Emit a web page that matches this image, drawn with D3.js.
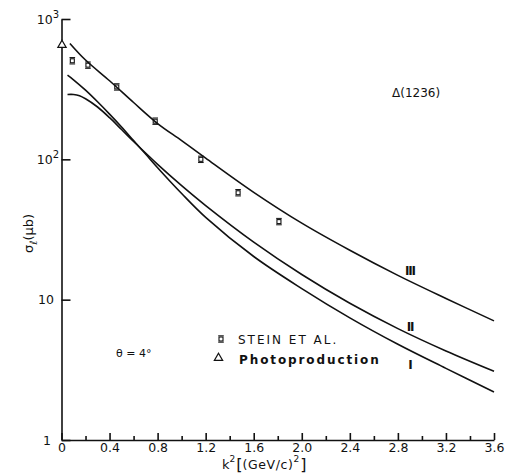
<!DOCTYPE html>
<html>
<head>
<meta charset="utf-8">
<script src="https://cdn.jsdelivr.net/npm/d3@7"></script>
<style>
  body { margin: 0; background: #fff; }
  svg { display: block; }
  .axis path, .axis line { stroke: #111; stroke-width: 1.6; }
  text { fill: #111; font-family: "DejaVu Sans", sans-serif; }
</style>
</head>
<body>
<div class="chart"></div>
<script>
// k^2 in (GeV/c)^2, cross section in microbarn
const curveI_k2 = [0.05, 0.1, 0.2, 0.3, 0.4, 0.5, 0.6, 0.7, 0.8, 1.0, 1.2, 1.6, 2.0, 2.4, 2.8, 3.2, 3.6]
const curveI_sig = [398, 369, 311, 257, 210, 170, 136, 109, 87.2, 57.1, 38.6, 20.3, 12.0, 7.42, 4.81, 3.24, 2.2]

const curveII_k2 = [0.05, 0.1, 0.15, 0.2, 0.3, 0.4, 0.5, 0.6, 0.7, 0.8, 1.0, 1.2, 1.6, 2.0, 2.4, 2.8, 3.2, 3.6]
const curveII_sig = [290, 290, 284, 270, 236, 198, 163, 134, 111, 92, 64.9, 46.8, 25.7, 15.1, 9.42, 6.22, 4.31, 3.09]

const curveIII_k2 = [0.07, 0.2, 0.4, 0.6, 0.8, 1.0, 1.2, 1.6, 2.0, 2.4, 2.8, 3.2, 3.6]
const curveIII_sig = [670, 510, 363, 254, 180, 136, 102, 58.2, 35.1, 22.5, 14.9, 10.2, 7.06]

const stein_k2 = [0.09, 0.22, 0.46, 0.78, 1.16, 1.47, 1.81]
const stein_sig = [504, 469, 328, 187, 100, 57.8, 36]

const photo_k2 = [0]
const photo_sig = [652]

const xTicks = [0, 0.2, 0.4, 0.6, 0.8, 1.0, 1.2, 1.4, 1.6, 1.8, 2.0, 2.2, 2.4, 2.6, 2.8, 3.0, 3.2, 3.4, 3.6]
const xLabels = ["0", "0.4", "0.8", "1.2", "1.6", "2.0", "2.4", "2.8", "3.2", "3.6"]
const yTicks = [1, 10, 100, 1000]
const curveNames = ["I", "II", "III"]

const width = 508, height = 474

const svg = d3.select(".chart").append("svg")
  .attr("width", width)
  .attr("height", height)

const x = d3.scaleLinear().domain([0, 3.6]).range([61.5, 494])
const y = d3.scaleLog().domain([1, 1000]).range([440, 19])

const fmtX = d => d === 0 ? "0" : d3.format(".1f")(d)

// x axis, ticks pointing up
const xAxis = d3.axisBottom(x)
  .tickValues(xTicks)
  .tickSizeOuter(0)
  .tickSizeInner(-4)
  .tickPadding(3)
  .tickFormat(d => xLabels.includes(fmtX(d)) ? fmtX(d) : "")

const gx = svg.append("g")
  .attr("class", "axis x-axis")
  .attr("transform", `translate(0, ${y(1)})`)
  .call(xAxis)
gx.selectAll(".tick line")
  .attr("y2", d => xLabels.includes(fmtX(d)) ? -7 : -4)
gx.selectAll(".tick text")
  .attr("font-size", 12.5)
  .attr("font-family", "DejaVu Sans")
  .attr("fill", "#111")

// y axis, ticks pointing right
const yAxis = d3.axisLeft(y)
  .tickValues(yTicks)
  .tickSizeOuter(0)
  .tickSizeInner(-9)
  .tickFormat("")

svg.append("g")
  .attr("class", "axis y-axis")
  .attr("transform", `translate(${x(0)}, 0)`)
  .call(yAxis)

yTicks.forEach(v => {
  const exp = Math.round(Math.log10(v))
  const t = svg.append("text")
    .attr("font-size", 12.5)
    .attr("text-anchor", "end")
  if (exp <= 1) {
    t.attr("x", exp === 0 ? 51 : 54).attr("y", y(v) + 4.5).text(v)
  } else {
    t.attr("x", 59).attr("y", y(v) + 4.5)
    t.append("tspan").text("10")
    t.append("tspan").attr("font-size", 10).attr("dy", -6).text(exp)
  }
})

// theory curves
const line = d3.line()
  .x(d => x(d[0]))
  .y(d => y(d[1]))
  .curve(d3.curveCatmullRom.alpha(0.5))

const curves = [
  { k2: curveI_k2, sig: curveI_sig },
  { k2: curveII_k2, sig: curveII_sig },
  { k2: curveIII_k2, sig: curveIII_sig }
]

svg.selectAll(".curve")
  .data(curves)
  .enter()
  .append("path")
  .attr("class", "curve")
  .attr("d", d => line(d3.zip(d.k2, d.sig)))
  .attr("fill", "none")
  .attr("stroke", "#111")
  .attr("stroke-width", 1.6)

// roman numeral labels (I under its curve, II and III above)
const romanY = [369, 331, 275]
curveNames.forEach((n, i) => {
  svg.append("text")
    .attr("x", x(2.9))
    .attr("y", romanY[i])
    .attr("text-anchor", "middle")
    .attr("font-family", "Liberation Serif")
    .attr("font-weight", "bold")
    .attr("font-size", 12)
    .attr("letter-spacing", -1.2)
    .text(n)
})

// Stein et al. symbol: small box with capped bar
function steinMark(g) {
  g.append("rect")
    .attr("x", -2).attr("y", -2)
    .attr("width", 4).attr("height", 4)
    .attr("fill", "none").attr("stroke", "#111").attr("stroke-width", 1.1)
  g.append("line")
    .attr("x1", -2.8).attr("x2", 2.8).attr("y1", -3.2).attr("y2", -3.2)
    .attr("stroke", "#111").attr("stroke-width", 1)
  g.append("line")
    .attr("x1", -2.8).attr("x2", 2.8).attr("y1", 3.2).attr("y2", 3.2)
    .attr("stroke", "#111").attr("stroke-width", 1)
}

const tri = d3.symbol().type(d3.symbolTriangle).size(30)

svg.selectAll(".stein")
  .data(d3.zip(stein_k2, stein_sig))
  .enter()
  .append("g")
  .attr("class", "stein")
  .attr("transform", d => `translate(${x(d[0])}, ${y(d[1])})`)
  .each(function() { steinMark(d3.select(this)) })

svg.selectAll(".photo")
  .data(d3.zip(photo_k2, photo_sig))
  .enter()
  .append("path")
  .attr("class", "photo")
  .attr("d", tri)
  .attr("transform", d => `translate(${x(d[0]) + 0.5}, ${y(d[1])})`)
  .attr("fill", "#fff")
  .attr("stroke", "#111")
  .attr("stroke-width", 1.2)

// legend
const lg = svg.append("g")
steinMark(lg.append("g").attr("transform", "translate(221, 339)"))
lg.append("path")
  .attr("d", tri)
  .attr("transform", "translate(218.5, 358)")
  .attr("fill", "none")
  .attr("stroke", "#111")
  .attr("stroke-width", 1.2)
lg.append("text")
  .attr("x", 238).attr("y", 343.5)
  .attr("font-size", 12)
  .attr("letter-spacing", 2)
  .text("STEIN ET AL.")
lg.append("text")
  .attr("x", 239).attr("y", 363.5)
  .attr("font-size", 12)
  .attr("font-weight", "bold")
  .attr("letter-spacing", 1.9)
  .text("Photoproduction")

svg.append("text")
  .attr("x", 116).attr("y", 357)
  .attr("font-size", 11)
  .text("θ = 4°")

svg.append("text")
  .attr("x", 392).attr("y", 97)
  .attr("font-size", 12)
  .text("Δ(1236)")

// axis titles
const xt = svg.append("text")
  .attr("x", 222).attr("y", 469)
  .attr("font-size", 13)
xt.append("tspan").text("k")
xt.append("tspan").attr("font-size", 9).attr("dy", -7).text("2")
xt.append("tspan").attr("font-size", 16).attr("dy", 7.5).attr("dx", 1).text("[")
xt.append("tspan").attr("font-size", 12.5).attr("dy", -0.5).attr("letter-spacing", 0.6).text("(GeV/c)")
xt.append("tspan").attr("font-size", 9).attr("dy", -7).text("2")
xt.append("tspan").attr("font-size", 16).attr("dy", 7.5).attr("dx", 1).text("]")

const yt = svg.append("text")
  .attr("transform", "translate(33, 253) rotate(-90)")
  .attr("font-size", 13)
yt.append("tspan").text("σ")
yt.append("tspan").attr("font-size", 10).attr("dy", 4).text("ℓ")
yt.append("tspan").attr("dy", -4).text("(μb)")
</script>
</body>
</html>
